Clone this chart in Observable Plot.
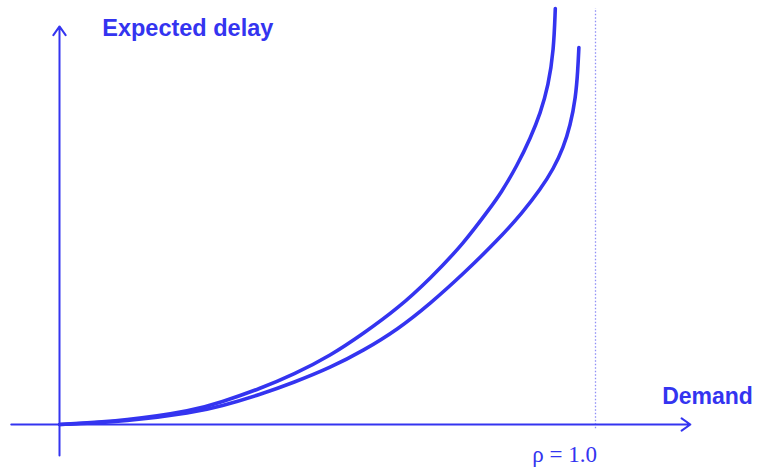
<!DOCTYPE html>
<html>
<head>
<meta charset="utf-8">
<script src="https://cdn.jsdelivr.net/npm/d3@7"></script>
<script src="https://cdn.jsdelivr.net/npm/@observablehq/plot@0.6"></script>
<style>
  html, body { margin: 0; padding: 0; background: #fff; }
  #chart svg { display: block; }
</style>
</head>
<body>
<div id="chart"></div>
<script>
// Upper (left) curve: demand ρ vs expected delay
const rhoA   = [0, 0.127, 0.250, 0.300, 0.375, 0.437, 0.506, 0.567, 0.631, 0.692, 0.754, 0.804, 0.823, 0.854, 0.879, 0.897, 0.912, 0.922, 0.925];
const delayA = [0, 0.096, 0.337, 0.529, 0.865, 1.202, 1.659, 2.188, 2.788, 3.510, 4.351, 5.216, 5.553, 6.226, 6.899, 7.476, 8.149, 8.990, 10.0];
// Lower (right) curve
const rhoB   = [0, 0.127, 0.250, 0.300, 0.375, 0.437, 0.506, 0.567, 0.631, 0.692, 0.754, 0.817, 0.864, 0.897, 0.922, 0.940, 0.953, 0.963, 0.967, 0.969];
const delayB = [0, 0.072, 0.288, 0.433, 0.721, 1.010, 1.370, 1.779, 2.284, 2.909, 3.630, 4.423, 5.096, 5.649, 6.154, 6.659, 7.188, 7.861, 8.510, 9.063];
// Labels
const yLabel = "Expected delay";
const xLabel = "Demand";
const capacityLabel = "ρ = 1.0";
const capacityRho = [1.0];

const blue = "#3434f0";
const A = rhoA.map((r, i) => ({rho: r, delay: delayA[i]}));
const B = rhoB.map((r, i) => ({rho: r, delay: delayB[i]}));

const chart = Plot.plot({
  width: 757,
  height: 468,
  margin: 0,
  x: {domain: [0, 1], range: [59, 595], axis: null},
  y: {domain: [0, 10], range: [424, 8], axis: null},
  marks: [
    Plot.ruleX(capacityRho, {x: d => d, y1: -0.1, y2: 10, stroke: "#8f8ff5", strokeWidth: 1.3, strokeDasharray: "1.5,2"}),
    Plot.arrow([{}], {x1: -0.09, x2: 1.177, y1: 0, y2: 0, stroke: blue, strokeWidth: 2, headLength: 8, headAngle: 70}),
    Plot.arrow([{}], {x1: 0, x2: 0, y1: -0.745, y2: 9.57, stroke: blue, strokeWidth: 2, headLength: 8, headAngle: 70}),
    Plot.line(A, {x: "rho", y: "delay", stroke: blue, strokeWidth: 3.6, curve: "basis"}),
    Plot.line(B, {x: "rho", y: "delay", stroke: blue, strokeWidth: 3.6, curve: "basis"}),
    Plot.text([yLabel], {x: 0.0797, y: 9.33, text: d => d, textAnchor: "start", lineAnchor: "bottom",
      fill: blue, fontSize: 23.5, fontWeight: "bold", fontFamily: "Liberation Sans, Arial, sans-serif"}),
    Plot.text([xLabel], {x: 1.1244, y: 0.481, text: d => d, textAnchor: "start", lineAnchor: "bottom",
      fill: blue, fontSize: 23, fontWeight: "bold", fontFamily: "Liberation Sans, Arial, sans-serif"}),
    Plot.text([capacityLabel], {x: 0.8819, y: -0.906, text: d => d, textAnchor: "start", lineAnchor: "bottom",
      fill: blue, fontSize: 23, fontFamily: "Liberation Serif, Times New Roman, serif"})
  ]
});
document.getElementById("chart").appendChild(chart);
</script>
</body>
</html>
